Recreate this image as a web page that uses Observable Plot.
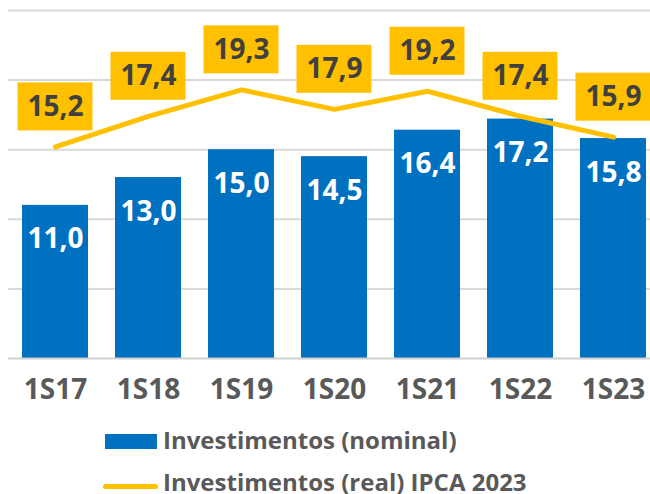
<!DOCTYPE html>
<html><head><meta charset="utf-8">
<script src="https://cdn.jsdelivr.net/npm/d3@7"></script>
<script src="https://cdn.jsdelivr.net/npm/@observablehq/plot@0.6"></script>
<style>
body{margin:0;background:#fff;font-family:"Open Sans",sans-serif;}
#wrap{position:relative;width:650px;height:494px;overflow:hidden;}
#chart svg{display:block;}
.lg{position:absolute;}
.lgt{position:absolute;font-size:24px;line-height:24px;font-weight:700;color:#595959;white-space:nowrap;}
</style></head><body>
<div id="wrap">
<div id="chart"></div>
<div class="lg" style="left:105px;top:434px;width:52px;height:15px;background:#0070C0"></div>
<div class="lgt" style="left:163px;top:428px">Investimentos (nominal)</div>
<div class="lg" style="left:103px;top:484px;width:55px;height:5px;border-radius:3px;background:#FFC000"></div>
<div class="lgt" style="left:163px;top:470px">Investimentos (real) IPCA 2023</div>
</div>
<script>
const periods = ["1S17","1S18","1S19","1S20","1S21","1S22","1S23"];
const nominal = [11.0,13.0,15.0,14.5,16.4,17.2,15.8];
const real = [15.2,17.4,19.3,17.9,19.2,17.4,15.9];
const gridTicks = [5,10,15,20,25];

const data = periods.map((p,i)=>({period:p, nominal:nominal[i], real:real[i]}));
const fmt = v => v.toFixed(1).replace(".", ",");

const chart = Plot.plot({
  width: 650, height: 410,
  marginLeft: 8, marginRight: 0, marginTop: 10, marginBottom: 52,
  style: {fontFamily: "'Open Sans', sans-serif", background: "#fff"},
  x: {domain: periods, range: [-5, 673], padding: 0.29},
  y: {domain: [0, 25], axis: null},
  marks: [
    Plot.ruleY(gridTicks, {stroke: "#d9d9d9", strokeWidth: 2}),
    Plot.barY(data, {x: "period", y: "nominal", fill: "#0070C0"}),
    Plot.ruleY([0], {stroke: "#d0d0d0", strokeWidth: 2}),
    Plot.text(data, {x: "period", y: "nominal", text: d => fmt(d.nominal), dy: 34, fill: "#fff", fontSize: 28, fontWeight: 700}),
    Plot.line(data, {x: "period", y: "real", stroke: "#FFC000", strokeWidth: 5, strokeLinecap: "round", strokeLinejoin: "round"}),
    Plot.barY(data, {x: "period", y1: "real", y2: "real", fill: "#FFC000", insetTop: -64, insetBottom: 16, insetLeft: -4.5, insetRight: -4.5}),
    Plot.text(data, {x: "period", y: "real", text: d => fmt(d.real), dy: -40, fill: "#404040", fontSize: 28, fontWeight: 700}),
    Plot.axisX({tickSize: 0, tickPadding: 21, fontSize: 28, fontWeight: 700, color: "#595959", label: null})
  ]
});
document.getElementById("chart").appendChild(chart);
</script>
</body></html>
